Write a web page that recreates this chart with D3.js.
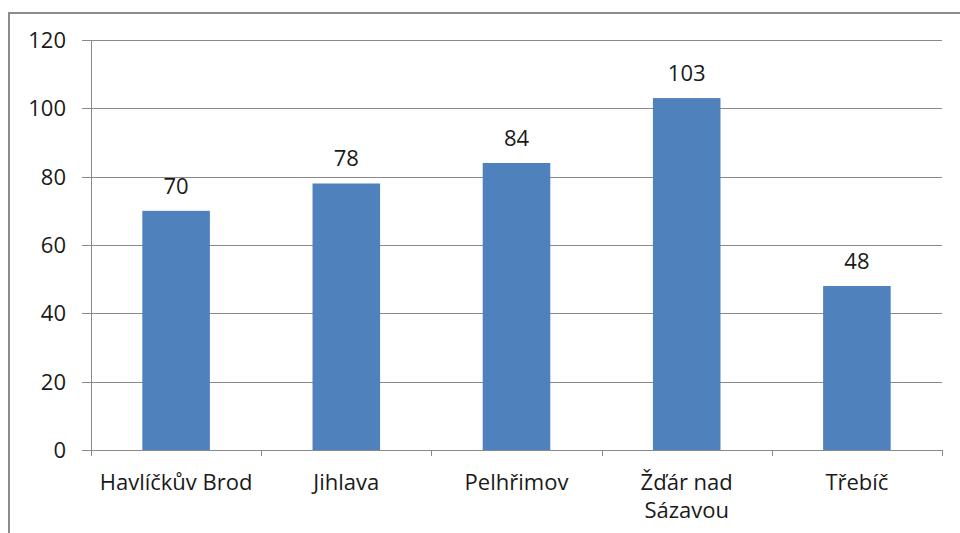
<!DOCTYPE html>
<html>
<head>
<meta charset="utf-8">
<script src="https://cdn.jsdelivr.net/npm/d3@7"></script>
<style>
  body { margin: 0; background: #fff; }
  svg text { font-family: "Open Sans", sans-serif; fill: #1a1a1a; }
</style>
</head>
<body>
<svg id="chart" width="960" height="533"></svg>
<script>
var categories = ["Havlíčkův Brod", "Jihlava", "Pelhřimov", "Žďár nad|Sázavou", "Třebíč"];
var values = [70, 78, 84, 103, 48];
var yTicks = [0, 20, 40, 60, 80, 100, 120];

var svg = d3.select("#chart");

// outer frame (right/bottom edges fall outside the picture)
svg.append("rect")
  .attr("x", 9)
  .attr("y", 13)
  .attr("width", 980)
  .attr("height", 560)
  .attr("fill", "none")
  .attr("stroke", "#8c8c8c")
  .attr("stroke-width", 2);

var plotLeft = 91, plotRight = 942, plotTop = 40, plotBottom = 450;

var x = d3.scaleBand().domain(categories).range([plotLeft, plotRight]).padding(0);
var y = d3.scaleLinear().domain([0, 120]).range([plotBottom, plotTop]);

// gridlines + y ticks
svg.selectAll(".grid").data(yTicks).enter().append("line")
  .attr("x1", plotLeft - 9)
  .attr("x2", plotRight)
  .attr("y1", d => Math.round(y(d)) + 0.5)
  .attr("y2", d => Math.round(y(d)) + 0.5)
  .attr("stroke", "#8a8a8a")
  .attr("stroke-width", 1);

svg.selectAll(".ylab").data(yTicks).enter().append("text")
  .attr("x", 66)
  .attr("y", d => y(d))
  .attr("dy", "0.36em")
  .attr("text-anchor", "end")
  .style("font-size", "22px")
  .text(d => d);

// y axis line
svg.append("line")
  .attr("x1", plotLeft + 0.5).attr("x2", plotLeft + 0.5)
  .attr("y1", plotTop).attr("y2", plotBottom)
  .attr("stroke", "#8a8a8a");

// x ticks at band boundaries
var bounds = categories.map(c => x(c)).concat([plotRight]);
svg.selectAll(".xtick").data(bounds).enter().append("line")
  .attr("x1", d => Math.round(d) + 0.5)
  .attr("x2", d => Math.round(d) + 0.5)
  .attr("y1", plotBottom)
  .attr("y2", plotBottom + 6)
  .attr("stroke", "#8a8a8a");

// bars
var bw = x.bandwidth() * 0.397;
svg.selectAll(".bar").data(values).enter().append("rect")
  .attr("x", (d, i) => x(categories[i]) + x.bandwidth() / 2 - bw / 2)
  .attr("y", d => y(d))
  .attr("width", bw)
  .attr("height", d => y(0) - y(d))
  .attr("fill", "#4f81bd");

// value labels
svg.selectAll(".val").data(values).enter().append("text")
  .attr("x", (d, i) => x(categories[i]) + x.bandwidth() / 2)
  .attr("y", d => y(d) - 25)
  .attr("dy", "0.36em")
  .attr("text-anchor", "middle")
  .style("font-size", "22px")
  .text(d => d);

// category labels
categories.forEach(function(c) {
  var t = svg.append("text")
    .attr("x", x(c) + x.bandwidth() / 2)
    .attr("y", 490)
    .attr("text-anchor", "middle")
    .style("font-size", "22px");
  c.split("|").forEach(function(line, j) {
    t.append("tspan")
      .attr("x", x(c) + x.bandwidth() / 2)
      .attr("dy", j ? 28 : 0)
      .text(line);
  });
});
</script>
</body>
</html>
